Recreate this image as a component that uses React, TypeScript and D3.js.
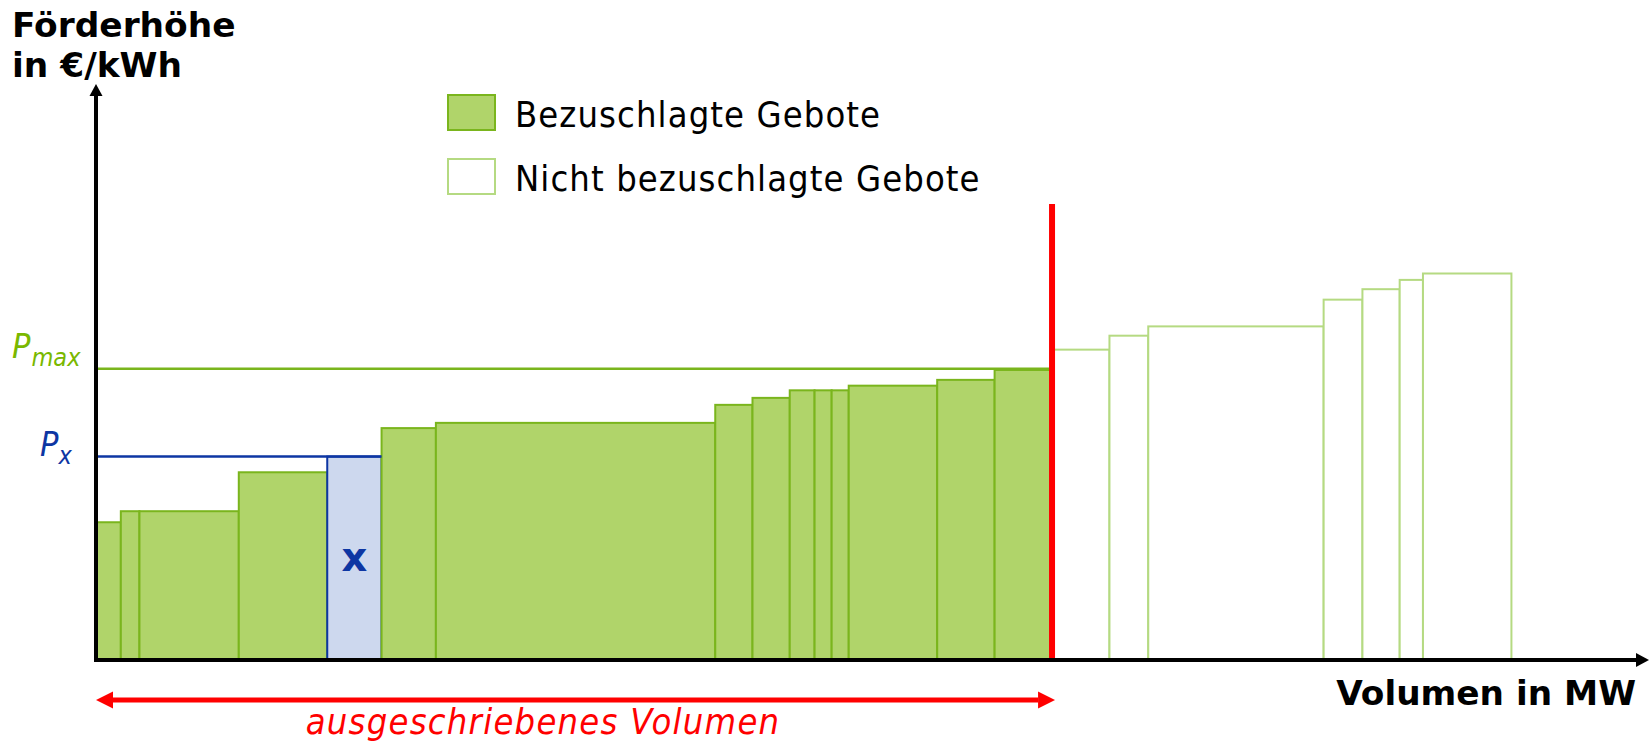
import React from 'react';
import * as d3 from 'd3';

// accepted bids (volume in MW, price in ct-ish units)
const acceptedVolumes = [16, 12, 64, 57, 35, 35, 180, 24, 24, 16, 11, 11, 57, 37, 37];
const acceptedPrices = [2.37, 2.56, 2.56, 3.23, 3.5, 3.99, 4.08, 4.39, 4.51, 4.64, 4.64, 4.64, 4.72, 4.82, 4.99];
const markedBid = 4; // the "x" bid

// bids above the tendered volume
const rejectedVolumes = [37, 25, 113, 25, 24, 15, 57];
const rejectedPrices = [5.34, 5.58, 5.74, 6.2, 6.38, 6.54, 6.65];

const pMax = 5.01;
const pX = 3.5;

const legendLabels = ['Bezuschlagte Gebote', 'Nicht bezuschlagte Gebote'];

const W = 1650;
const H = 744;

const GREEN_FILL = '#b0d46a';
const GREEN_STROKE = '#7ab51d';
const GREEN_LIGHT = '#b5da82';
const BLUE = '#0d36a3';
const RED = '#ff0000';

const condensed = "'DejaVu Sans Condensed', 'DejaVu Sans', sans-serif";
const bold = "'DejaVu Sans', Verdana, sans-serif";

function steps(volumes: number[], prices: number[], offset: number) {
  let acc = offset;
  return volumes.map((v, i) => {
    const d = { x0: acc, x1: acc + v, p: prices[i], i };
    acc += v;
    return d;
  });
}

export default function App() {
  const x = d3.scaleLinear().domain([0, 1000]).range([96, 1648]);
  const y = d3.scaleLinear().domain([0, 10]).range([660, 78.8]);

  const tender = d3.sum(acceptedVolumes);
  const accepted = steps(acceptedVolumes, acceptedPrices, 0);
  const rejected = steps(rejectedVolumes, rejectedPrices, tender);

  const x0 = x(0);
  const y0 = y(0);
  const xT = x(tender);

  return (
    <div style={{ position: 'fixed', left: 0, top: 0 }}>
      <svg width={W} height={H} style={{ display: 'block', background: '#fff' }}>
        {/* rejected bids */}
        {rejected.map((d) => (
          <rect key={'r' + d.i} x={x(d.x0)} y={y(d.p)} width={x(d.x1) - x(d.x0)} height={y0 - y(d.p)}
            fill="#fff" stroke={GREEN_LIGHT} strokeWidth={2} />
        ))}
        {/* accepted bids */}
        {accepted.map((d) => (
          <rect key={'a' + d.i} x={x(d.x0)} y={y(d.p)} width={x(d.x1) - x(d.x0)} height={y0 - y(d.p)}
            fill={d.i === markedBid ? '#cdd8ee' : GREEN_FILL}
            stroke={d.i === markedBid ? BLUE : GREEN_STROKE} strokeWidth={2} />
        ))}
        <text x={(x(accepted[markedBid].x0) + x(accepted[markedBid].x1)) / 2} y={571}
          textAnchor="middle" fontFamily={bold} fontWeight="bold" fontSize={40} fill={BLUE}>x</text>

        {/* P_max and P_x */}
        <line x1={x0} x2={xT} y1={y(pMax)} y2={y(pMax)} stroke={GREEN_STROKE} strokeWidth={2.5} />
        <line x1={x0} x2={x(accepted[markedBid].x1)} y1={y(pX)} y2={y(pX)} stroke={BLUE} strokeWidth={2.5} />
        <text x={12} y={358} fontFamily={condensed} fontStyle="italic" fill="#7ab800">
          <tspan fontSize={34}>P</tspan>
          <tspan fontSize={25} dx={1} dy={8}>max</tspan>
        </text>
        <text x={40} y={456} fontFamily={condensed} fontStyle="italic" fill={BLUE}>
          <tspan fontSize={34}>P</tspan>
          <tspan fontSize={25} dx={0} dy={8}>x</tspan>
        </text>

        {/* tender volume limit */}
        <line x1={xT} x2={xT} y1={204} y2={y0} stroke={RED} strokeWidth={6} />

        {/* axes */}
        <line x1={x0} x2={x0} y1={y0 + 2} y2={94} stroke="#000" strokeWidth={4} />
        <polygon points={`${x0},84 ${x0 - 6.5},96 ${x0 + 6.5},96`} fill="#000" />
        <line x1={x0 - 2} x2={1637} y1={y0} y2={y0} stroke="#000" strokeWidth={4} />
        <polygon points={`1649,${y0} 1636,${y0 - 7} 1636,${y0 + 7}`} fill="#000" />

        <text fontFamily={bold} fontWeight="bold" fontSize={34.4} fill="#000">
          <tspan x={12} y={37}>Förderhöhe</tspan>
          <tspan x={12} y={77}>in €/kWh</tspan>
        </text>
        <text x={1636} y={705} textAnchor="end" fontFamily={bold} fontWeight="bold" fontSize={34.3} fill="#000">
          Volumen in MW
        </text>

        {/* ausgeschriebenes Volumen arrow */}
        <line x1={x0 + 14} x2={xT - 14} y1={700} y2={700} stroke={RED} strokeWidth={5} />
        <polygon points={`${x0},700 ${x0 + 17},691.5 ${x0 + 17},708.5`} fill={RED} />
        <polygon points={`${xT + 3},700 ${xT - 14},691.5 ${xT - 14},708.5`} fill={RED} />
        <text x={543} y={734} textAnchor="middle" fontFamily={condensed} fontStyle="italic" fontSize={36}
          letterSpacing={1.25} fill={RED}>
          ausgeschriebenes Volumen
        </text>

        {/* legend */}
        {legendLabels.map((l, i) => (
          <g key={l} transform={`translate(0, ${i * 64})`}>
            <rect x={448} y={95} width={47} height={35}
              fill={i === 0 ? GREEN_FILL : '#fff'} stroke={i === 0 ? GREEN_STROKE : GREEN_LIGHT} strokeWidth={2} />
            <text x={515} y={127} fontFamily={condensed} fontSize={36} letterSpacing={1.1} fill="#000">{l}</text>
          </g>
        ))}
      </svg>
    </div>
  );
}
